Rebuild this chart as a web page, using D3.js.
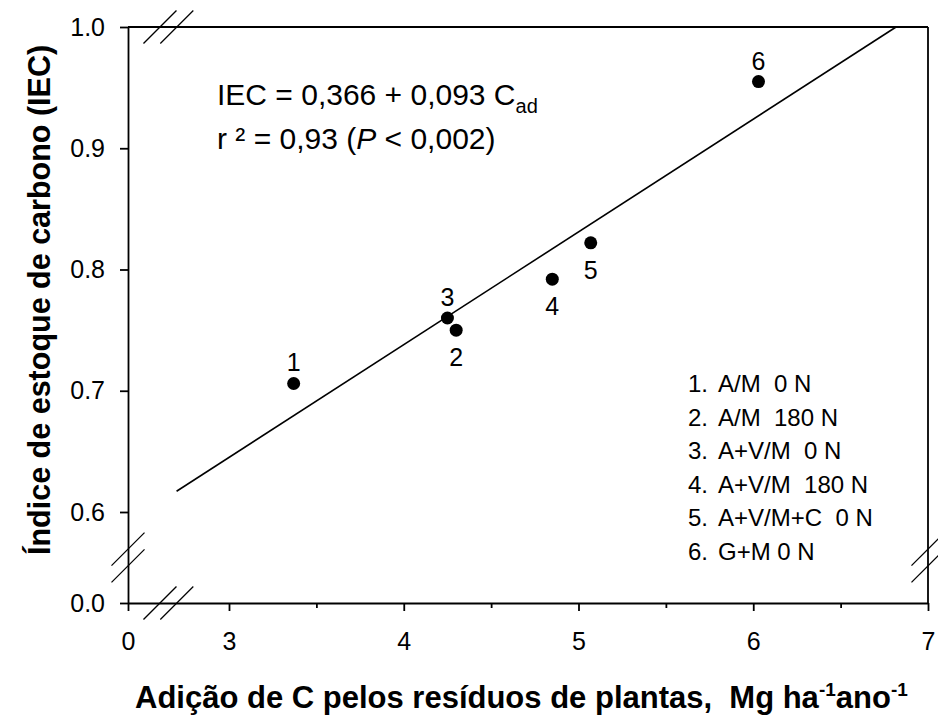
<!DOCTYPE html>
<html>
<head>
<meta charset="utf-8">
<script src="https://cdn.jsdelivr.net/npm/d3@7"></script>
<style>
  body { margin: 0; background: #fff; }
  svg { font-family: "Liberation Sans", Arial, sans-serif; }
</style>
</head>
<body>
<div id="chart"></div>
<script>
// data
var carbonAdded = [3.37, 4.30, 4.25, 4.85, 5.07, 6.03];
var stockIndex = [0.706, 0.750, 0.760, 0.792, 0.822, 0.955];
var pointIds = ["1", "2", "3", "4", "5", "6"];
var labelAbove = [true, false, true, false, false, true];
var legendLabels = ["A/M  0 N", "A/M  180 N", "A+V/M  0 N", "A+V/M  180 N", "A+V/M+C  0 N", "G+M 0 N"];
var xTicks = [0, 3, 4, 5, 6, 7];
var xMinorTicks = [3.5, 4.5, 5.5, 6.5];
var yTicks = [0.0, 0.6, 0.7, 0.8, 0.9, 1.0];
var fitIntercept = 0.366, fitSlope = 0.093, fitStart = 2.7;
var xBreaks = [0.95, 1.45];
var yBreaks = [0.245, 0.355];

var width = 938, height = 715;

var svg = d3.select("#chart").append("svg")
	.attr("width", width)
	.attr("height", height);

// broken axes: piecewise scales for the axes, plain linear ones for the data
var xAx = d3.scaleLinear().domain([0, 3, 7]).range([128, 229, 928]);
var yAx = d3.scaleLinear().domain([0, 0.6, 1.0]).range([603, 512, 27]);
var x = d3.scaleLinear().domain([3, 7]).range([229, 928]);
var y = d3.scaleLinear().domain([0.6, 1.0]).range([512, 27]);

svg.append("g")
	.attr("transform", "translate(0," + yAx(0) + ")")
	.call(d3.axisBottom(xAx).tickValues(xTicks).tickSize(8).tickSizeOuter(0).tickPadding(21)
		.tickFormat(d3.format("d")));
svg.append("g")
	.attr("transform", "translate(0," + yAx(0) + ")")
	.call(d3.axisBottom(xAx).tickValues(xMinorTicks).tickSize(5).tickSizeOuter(0).tickFormat(""))
	.select(".domain").remove();

svg.append("g")
	.attr("transform", "translate(" + xAx(0) + ",0)")
	.call(d3.axisLeft(yAx).tickValues(yTicks).tickSize(8).tickSizeOuter(0).tickPadding(15)
		.tickFormat(d3.format(".1f")));

svg.selectAll(".tick text").attr("font-size", 25).attr("fill", "#000")
	.style("font-family", "'Liberation Sans', Arial, sans-serif");
svg.selectAll(".domain, .tick line").attr("stroke", "#000").attr("stroke-width", 1.8);

// top and right frame
svg.append("line")
	.attr("x1", xAx(0)).attr("x2", xAx(7)).attr("y1", yAx(1)).attr("y2", yAx(1))
	.attr("stroke", "#000").attr("stroke-width", 1.8);
svg.append("line")
	.attr("x1", xAx(7)).attr("x2", xAx(7)).attr("y1", yAx(1)).attr("y2", yAx(0))
	.attr("stroke", "#000").attr("stroke-width", 1.8);

// break marks
var bk = 16.5;
xBreaks.forEach(function (b) {
	[yAx(0), yAx(1)].forEach(function (yy) {
		svg.append("line")
			.attr("x1", xAx(b) - bk).attr("y1", yy + bk)
			.attr("x2", xAx(b) + bk).attr("y2", yy - bk)
			.attr("stroke", "#000").attr("stroke-width", 1.3);
	});
});
yBreaks.forEach(function (b) {
	[xAx(0), xAx(7)].forEach(function (xx) {
		svg.append("line")
			.attr("x1", xx - bk).attr("y1", yAx(b) + bk)
			.attr("x2", xx + bk).attr("y2", yAx(b) - bk)
			.attr("stroke", "#000").attr("stroke-width", 1.3);
	});
});

// regression line, stops at the top of the frame
var fitEnd = (1.0 - fitIntercept) / fitSlope;
svg.append("line")
	.attr("x1", x(fitStart)).attr("y1", y(fitIntercept + fitSlope * fitStart))
	.attr("x2", x(fitEnd)).attr("y2", y(fitIntercept + fitSlope * fitEnd))
	.attr("stroke", "#000").attr("stroke-width", 1.6);

// points
var pts = carbonAdded.map(function (c, i) {
	return { c: c, v: stockIndex[i], id: pointIds[i], above: labelAbove[i] };
});
svg.append("g").selectAll("circle")
	.data(pts).enter().append("circle")
	.attr("cx", function (d) { return x(d.c); })
	.attr("cy", function (d) { return y(d.v); })
	.attr("r", 6.5)
	.attr("fill", "#000");
svg.append("g").selectAll("text")
	.data(pts).enter().append("text")
	.attr("x", function (d) { return x(d.c); })
	.attr("y", function (d) { return y(d.v) + (d.above ? -12 : 36); })
	.attr("text-anchor", "middle")
	.attr("font-size", 25)
	.text(function (d) { return d.id; });

// equation
var eq = svg.append("text").attr("x", 217).attr("y", 105).attr("font-size", 30);
eq.append("tspan").text("IEC = 0,366 + 0,093 C");
eq.append("tspan").attr("font-size", 20).attr("dy", 8).text("ad");
var r2 = svg.append("text").attr("x", 217).attr("y", 149).attr("font-size", 30);
r2.append("tspan").text("r \u00b2 = 0,93 (");
r2.append("tspan").attr("font-style", "italic").text("P");
r2.append("tspan").text(" < 0,002)");

// legend
var leg = svg.append("g").selectAll("g")
	.data(legendLabels).enter().append("g")
	.attr("transform", function (d, i) { return "translate(0," + (392 + i * 33.6) + ")"; });
leg.append("text").attr("x", 688).attr("font-size", 24)
	.text(function (d, i) { return (i + 1) + "."; });
leg.append("text").attr("x", 718).attr("font-size", 24)
	.style("white-space", "pre")
	.text(function (d) { return d; });

// axis titles
var xt = svg.append("text").attr("x", 135).attr("y", 708)
	.attr("font-size", 31).attr("font-weight", "bold");
xt.append("tspan").style("white-space", "pre").text("Adição de C pelos resíduos de plantas,  Mg ha");
xt.append("tspan").attr("font-size", 19).attr("dy", -12).text("-1");
xt.append("tspan").attr("dy", 12).text("ano");
xt.append("tspan").attr("font-size", 19).attr("dy", -12).text("-1");

svg.append("text")
	.attr("transform", "translate(50,555) rotate(-90)")
	.attr("font-size", 30.5).attr("font-weight", "bold")
	.text("Índice de estoque de carbono (IEC)");
</script>
</body>
</html>
